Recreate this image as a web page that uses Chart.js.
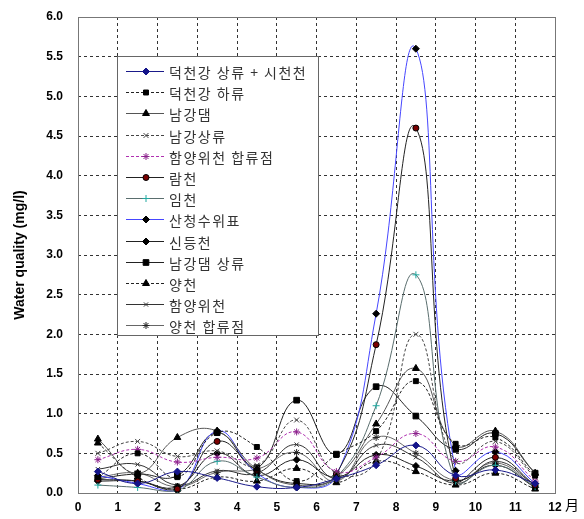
<!DOCTYPE html>
<html>
<head>
<meta charset="utf-8">
<script src="https://cdn.jsdelivr.net/npm/chart.js@4.4.0/dist/chart.umd.min.js"></script>
<style>
  body { margin: 0; background: #fff; }
  #wrap { width: 584px; height: 519px; }
</style>
</head>
<body>
<div id="wrap"><canvas id="chart1" width="584" height="519"></canvas></div>
<script>
const months = [0.5, 1.5, 2.5, 3.5, 4.5, 5.5, 6.5, 7.5, 8.5, 9.5, 10.5, 11.5];

const deokUpper   = [0.27, 0.12, 0.27, 0.19, 0.08, 0.07, 0.18, 0.35, 0.60, 0.22, 0.29, 0.12];
const deokLower   = [0.20, 0.50, 0.20, 0.76, 0.58, 0.15, 0.48, 0.78, 1.41, 0.62, 0.70, 0.22];
const namgangDam  = [0.68, 0.25, 0.70, 0.78, 0.30, 0.10, 0.20, 0.87, 1.57, 0.60, 0.78, 0.25];
const namgangUp   = [0.50, 0.65, 0.46, 0.53, 0.35, 0.92, 0.25, 0.40, 2.00, 0.40, 0.65, 0.20];
const hamyangJct  = [0.42, 0.55, 0.39, 0.45, 0.44, 0.77, 0.27, 0.45, 0.75, 0.40, 0.58, 0.15];
const ramcheon    = [0.17, 0.15, 0.05, 0.65, 0.29, 0.12, 0.24, 1.87, 4.60, 0.18, 0.45, 0.10];
const imcheon     = [0.10, 0.07, 0.03, 0.40, 0.20, 0.07, 0.20, 1.10, 2.75, 0.15, 0.35, 0.08];
const sancheong   = [0.22, 0.12, 0.03, 0.78, 0.25, 0.07, 0.22, 2.26, 5.60, 0.28, 0.52, 0.12];
const sindeung    = [0.15, 0.15, 0.08, 0.50, 0.22, 0.42, 0.20, 0.48, 0.34, 0.15, 0.35, 0.07];
const damUpper    = [0.18, 0.24, 0.22, 0.76, 0.32, 1.17, 0.49, 1.34, 0.97, 0.55, 0.75, 0.25];
const yangcheon   = [0.63, 0.20, 0.05, 0.20, 0.15, 0.31, 0.13, 0.40, 0.27, 0.10, 0.25, 0.05];
const hamyangWi   = [0.30, 0.36, 0.10, 0.28, 0.25, 0.61, 0.18, 0.60, 0.45, 0.12, 0.40, 0.10];
const yangJct     = [0.20, 0.25, 0.08, 0.26, 0.30, 0.51, 0.15, 0.70, 0.50, 0.16, 0.38, 0.08];

const xTicks = [0, 1, 2, 3, 4, 5, 6, 7, 8, 9, 10, 11, 12];
const yTicks = [0, 0.5, 1, 1.5, 2, 2.5, 3, 3.5, 4, 4.5, 5, 5.5, 6];

const dotted = [3, 2];

function series(label, values, line, dash, style, fill, stroke, radius) {
    return {
        label: label,
        data: values.map((v, i) => ({ x: months[i], y: v })),
        borderColor: line,
        borderWidth: 1,
        borderDash: dash,
        pointStyle: style,
        pointRadius: radius,
        pointBackgroundColor: fill,
        pointBorderColor: stroke,
        pointBorderWidth: 1,
        tension: 0.45,
        fill: false
    };
}

const datasets = [
    series('덕천강 상류 + 시천천', deokUpper, '#1a1a8a', [], 'rectRot', '#14148a', '#14148a', 3.5),
    series('덕천강 하류', deokLower, '#222', dotted, 'rect', '#000', '#000', 3.5),
    series('남강댐', namgangDam, '#555', [], 'triangle', '#000', '#000', 4),
    series('남강상류', namgangUp, '#444', dotted, 'crossRot', '#444', '#444', 3.5),
    series('함양위천 합류점', hamyangJct, '#b030b0', dotted, 'star', '#8a208a', '#8a208a', 3.5),
    series('람천', ramcheon, '#222', [], 'circle', '#7a0000', '#000', 3),
    series('임천', imcheon, '#5a6e6e', [], 'cross', '#20a8a0', '#20a8a0', 3.5),
    series('산청수위표', sancheong, '#4646ff', [], 'rectRot', '#000', '#000', 3.5),
    series('신등천', sindeung, '#222', [], 'rectRot', '#000', '#000', 3.5),
    series('남강댐 상류', damUpper, '#222', [], 'rect', '#000', '#000', 4),
    series('양천', yangcheon, '#222', dotted, 'triangle', '#000', '#000', 4),
    series('함양위천', hamyangWi, '#333', [], 'crossRot', '#333', '#333', 3),
    series('양천 합류점', yangJct, '#666', [], 'star', '#222', '#222', 3.5)
];

// frame round the plot area
const framePlugin = {
    id: 'frame',
    beforeDatasetsDraw(chart) {
        const a = chart.chartArea, ctx = chart.ctx;
        ctx.save();
        ctx.strokeStyle = '#777';
        ctx.lineWidth = 1;
        ctx.setLineDash([]);
        ctx.strokeRect(Math.round(a.left) + 0.5, Math.round(a.top) + 0.5,
                       Math.round(a.right - a.left), Math.round(a.bottom - a.top));
        ctx.restore();
    }
};

// boxed legend inside the plot + the month unit after the last tick
const boxLegend = {
    id: 'boxLegend',
    afterDraw(chart) {
        const ctx = chart.ctx;
        const left = 117, top = 56, width = 201, height = 279;
        const rowH = 21.2, firstRow = 71;
        ctx.save();
        ctx.fillStyle = '#fff';
        ctx.fillRect(left, top, width, height);
        ctx.strokeStyle = '#666';
        ctx.lineWidth = 1;
        ctx.strokeRect(left + 0.5, top + 0.5, width, height);

        chart.data.datasets.forEach((ds, i) => {
            const y = Math.round(firstRow + i * rowH) + 0.5;
            ctx.save();
            ctx.strokeStyle = ds.borderColor;
            ctx.lineWidth = 1;
            ctx.setLineDash(ds.borderDash || []);
            ctx.beginPath();
            ctx.moveTo(126, y);
            ctx.lineTo(164, y);
            ctx.stroke();
            ctx.setLineDash([]);
            ctx.fillStyle = ds.pointBackgroundColor;
            ctx.strokeStyle = ds.pointBorderColor;
            Chart.helpers.drawPoint(ctx, {
                pointStyle: ds.pointStyle,
                radius: ds.pointRadius,
                rotation: 0,
                borderWidth: 1
            }, 146, y);
            ctx.restore();

            ctx.save();
            ctx.fillStyle = '#333';
            ctx.font = '14px "Noto Sans CJK KR"';
            ctx.letterSpacing = '1.5px';
            ctx.textBaseline = 'middle';
            ctx.fillText(ds.label, 169, y + 1);
            ctx.restore();
        });

        const xs = chart.scales.x;
        ctx.fillStyle = '#000';
        ctx.font = '14px "Noto Sans CJK KR"';
        ctx.textBaseline = 'middle';
        ctx.fillText('月', xs.getPixelForValue(12) + 10, 505);
        ctx.restore();
    }
};

const ctx1 = document.getElementById('chart1').getContext('2d');

new Chart(ctx1, {
    type: 'line',
    data: { datasets: datasets },
    plugins: [framePlugin, boxLegend],
    options: {
        responsive: false,
        animation: false,
        layout: { padding: { left: 0, right: 29, top: 17, bottom: 0 } },
        plugins: {
            legend: { display: false },
            tooltip: { enabled: false }
        },
        scales: {
            x: {
                type: 'linear',
                min: 0,
                max: 12,
                afterBuildTicks: s => { s.ticks = xTicks.map(v => ({ value: v })); },
                afterFit: s => { s.height = 26; s.paddingLeft = 0; s.paddingRight = 0; },
                grid: { color: '#333', drawTicks: false, lineWidth: 1 },
                border: { display: false, dash: [3, 3] },
                ticks: {
                    color: '#000',
                    padding: 7,
                    maxRotation: 0,
                    font: { family: '"Liberation Sans", Arial', size: 12, weight: 'bold' }
                }
            },
            y: {
                min: 0,
                max: 6,
                afterBuildTicks: s => { s.ticks = yTicks.map(v => ({ value: v })); },
                afterFit: s => { s.width = 78; s.paddingTop = 0; s.paddingBottom = 0; },
                grid: { color: '#333', drawTicks: false, lineWidth: 1 },
                border: { display: false, dash: [3, 3] },
                ticks: {
                    color: '#000',
                    padding: 15,
                    callback: v => v.toFixed(1),
                    font: { family: '"Liberation Sans", Arial', size: 12, weight: 'bold' }
                },
                title: {
                    display: true,
                    text: 'Water quality (mg/l)',
                    color: '#000',
                    padding: { top: 12, bottom: 0 },
                    font: { family: '"Liberation Sans", Arial', size: 14, weight: 'bold' }
                }
            }
        }
    }
});
</script>
</body>
</html>
